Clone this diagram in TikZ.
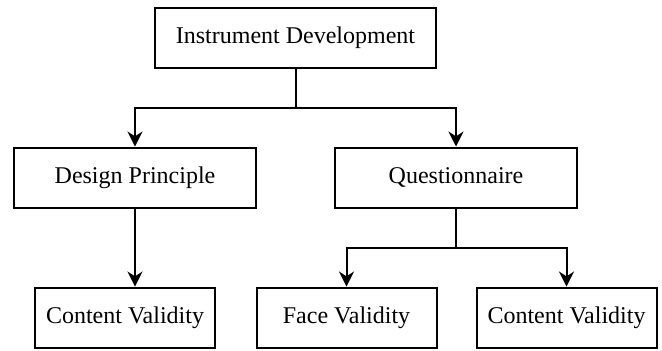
\documentclass[tikz,border=0pt]{standalone}
\usepackage{fontspec}
\setmainfont{Liberation Serif}
\usetikzlibrary{positioning, arrows.meta}

\begin{document}
\begin{tikzpicture}[-{Stealth[length=7.5pt,width=7.5pt]}, line width=1pt,
	box/.style={draw, line width=1pt, minimum height=30pt, font=\fontsize{12}{14}\selectfont},
	wide/.style={box, minimum width=121pt},
	small/.style={box, minimum width=90pt}]
	\useasboundingbox (-147.75pt,18.75pt) rectangle (183.25pt,-156.25pt);
	\node[box, minimum width=140.5pt] (dev) {Instrument Development};
	\node[wide, below = 39pt of dev, xshift=-80.25pt] (design) {Design Principle};
	\node[wide, right = 38.5pt of design] (quest) {Questionnaire};
	\node[small, below = 39pt of design, xshift=-5pt] (cv1) {Content Validity};
	\node[small, below = 39pt of quest, xshift=-54.75pt] (face) {Face Validity};
	\node[small, right = 19pt of face] (cv2) {Content Validity};
	
	\draw (dev.south) -- ++(0,-19.5pt) -| (design.north);
	\draw (dev.south) -- ++(0,-19.5pt) -| (quest.north);
	\draw (design.south) -- (design.south |- cv1.north);
	\draw (quest.south) -- ++(0,-19.5pt) -| (face.north);
	\draw (quest.south) -- ++(0,-19.5pt) -| (cv2.north);
	
\end{tikzpicture}
\end{document}
